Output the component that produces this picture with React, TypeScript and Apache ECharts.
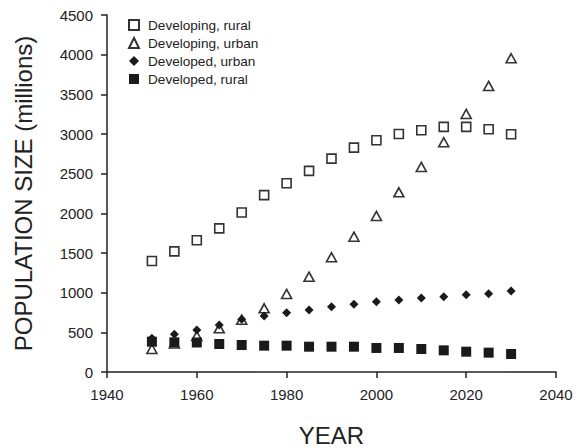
import React, { useEffect, useRef } from "react";
import * as echarts from "echarts";

const years = [1950, 1955, 1960, 1965, 1970, 1975, 1980, 1985, 1990, 1995, 2000, 2005, 2010, 2015, 2020, 2025, 2030];
const developingRural = [1400, 1520, 1660, 1810, 2010, 2230, 2380, 2535, 2690, 2828, 2921, 3000, 3047, 3090, 3090, 3060, 2997];
const developingUrban = [290, 360, 454, 551, 660, 803, 984, 1202, 1446, 1706, 1967, 2265, 2585, 2896, 3253, 3606, 3955];
const developedUrban = [425, 475, 530, 593, 665, 706, 748, 782, 824, 854, 887, 908, 933, 950, 975, 987, 1021];
const developedRural = [382, 374, 372, 353, 340, 332, 332, 319, 319, 319, 303, 303, 290, 273, 256, 244, 227];
const seriesNames = ["Developing, rural", "Developing, urban", "Developed, urban", "Developed, rural"];

const pairs = (vals: number[]) => years.map((y, i) => [y, vals[i]]);

export default function App() {
  const ref = useRef<HTMLDivElement>(null);
  useEffect(() => {
    document.body.style.margin = "0";
    document.body.style.overflow = "hidden";
    if (!ref.current) return;
    const chart = echarts.init(ref.current, undefined, { renderer: "svg" });
    const font = "Liberation Sans, Arial, sans-serif";
    const ink = "#222";
    chart.setOption({
      animation: false,
      textStyle: { fontFamily: font },
      grid: { left: 107, right: 30, top: 15, bottom: 76, containLabel: false, outerBoundsMode: "none" },
      legend: {
        orient: "vertical",
        left: 123,
        top: 13,
        itemWidth: 10,
        itemHeight: 10,
        itemGap: 4,
        data: seriesNames,
        textStyle: { fontSize: 13.6, color: ink, fontFamily: font, padding: [0, 0, 0, 4] },
      },
      xAxis: {
        type: "value",
        min: 1940,
        max: 2040,
        interval: 20,
        name: "YEAR",
        nameLocation: "middle",
        nameGap: 51,
        nameTextStyle: { fontSize: 24, color: ink, fontFamily: font },
        axisLine: { lineStyle: { color: ink, width: 1.5 } },
        axisTick: { lineStyle: { color: ink, width: 1.5 }, length: 6 },
        axisLabel: { fontSize: 15, color: ink, margin: 15, fontFamily: font, formatter: (v: number) => String(v) },
        splitLine: { show: false },
      },
      yAxis: {
        type: "value",
        min: 0,
        max: 4500,
        interval: 500,
        name: "POPULATION SIZE (millions)",
        nameLocation: "middle",
        nameGap: 72,
        nameTextStyle: { fontSize: 24, color: ink, fontFamily: font },
        axisLine: { show: true, lineStyle: { color: ink, width: 1.5 } },
        axisTick: { show: true, lineStyle: { color: ink, width: 1.5 }, length: 6 },
        axisLabel: { fontSize: 15, color: ink, margin: 14, fontFamily: font, formatter: (v: number) => String(v) },
        splitLine: { show: false },
      },
      series: [
        {
          name: seriesNames[0],
          type: "scatter",
          symbol: "rect",
          symbolSize: 9,
          itemStyle: { color: "#fff", borderColor: "#333", borderWidth: 1.6, opacity: 1 },
          data: pairs(developingRural),
        },
        {
          name: seriesNames[1],
          type: "scatter",
          symbol: "triangle",
          symbolSize: [10, 9],
          itemStyle: { color: "#fff", borderColor: "#333", borderWidth: 1.6, opacity: 1 },
          data: pairs(developingUrban),
        },
        {
          name: seriesNames[2],
          type: "scatter",
          symbol: "diamond",
          symbolSize: 9,
          itemStyle: { color: "#1a1a1a", opacity: 1 },
          data: pairs(developedUrban),
        },
        {
          name: seriesNames[3],
          type: "scatter",
          symbol: "rect",
          symbolSize: 10,
          itemStyle: { color: "#1a1a1a", opacity: 1 },
          data: pairs(developedRural),
        },
      ],
    });
    return () => chart.dispose();
  }, []);
  return (
    <div style={{ width: 586, height: 448, position: "relative", overflow: "hidden" }}>
      <div ref={ref} style={{ width: 586, height: 448, position: "absolute", left: 0, top: 0 }} />
    </div>
  );
}
